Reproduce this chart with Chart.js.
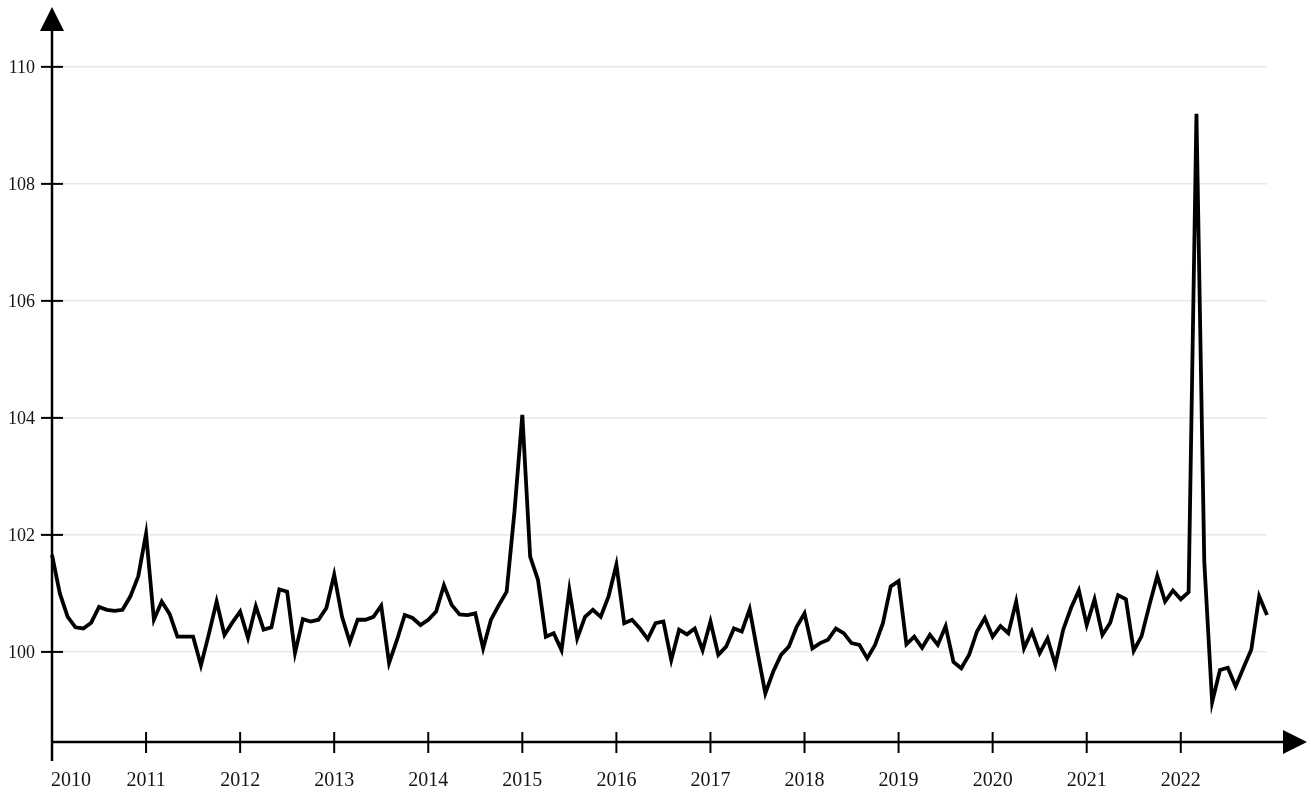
<!DOCTYPE html>
<html>
<head>
<meta charset="utf-8">
<script src="https://cdn.jsdelivr.net/npm/chart.js@4.4.1/dist/chart.umd.min.js"></script>
<style>
  html, body { margin: 0; padding: 0; background: #fff; }
  #wrap { width: 1311px; height: 798px; position: relative; }
</style>
</head>
<body>
<div id="wrap"><canvas id="myChart"></canvas></div>
<script>
// monthly index, Jan 2010 .. Dec 2022
const years = ['2010', '2011', '2012', '2013', '2014', '2015', '2016', '2017', '2018', '2019', '2020', '2021', '2022'];
const yTicks = [100, 102, 104, 106, 108, 110];
const values = [
  101.66, 101.0, 100.6, 100.42, 100.4, 100.5, 100.77, 100.72, 100.7, 100.72, 100.95, 101.29,
  102.02, 100.55, 100.86, 100.65, 100.26, 100.26, 100.26, 99.77, 100.3, 100.86, 100.29, 100.5,
  100.69, 100.24, 100.78, 100.38, 100.42, 101.07, 101.03, 99.98, 100.56, 100.52, 100.55, 100.75,
  101.32, 100.6, 100.17, 100.55, 100.55, 100.6, 100.79, 99.81, 100.2, 100.63, 100.58, 100.46,
  100.55, 100.69, 101.14, 100.8, 100.64, 100.63, 100.66, 100.06, 100.55, 100.8, 101.03, 102.4,
  104.05, 101.63, 101.23, 100.26, 100.32, 100.03, 101.06, 100.23, 100.6, 100.72, 100.6, 100.95,
  101.49, 100.49, 100.55, 100.4, 100.22, 100.49, 100.52, 99.86, 100.38, 100.3, 100.4, 100.03,
  100.52, 99.95, 100.09, 100.4, 100.35, 100.73, 100.0, 99.29, 99.66, 99.95, 100.09, 100.43,
  100.66, 100.06, 100.15, 100.21, 100.4, 100.32, 100.15, 100.12, 99.89, 100.12, 100.49, 101.12,
  101.21, 100.13, 100.26, 100.07, 100.29, 100.12, 100.44, 99.83, 99.72, 99.95, 100.35, 100.58,
  100.26, 100.44, 100.32, 100.86, 100.06, 100.35, 99.98, 100.23, 99.78, 100.38, 100.75, 101.05,
  100.46, 100.9, 100.29, 100.5, 100.97, 100.9, 100.02, 100.27, 100.8, 101.3, 100.86, 101.05,
  100.9, 101.02, 109.2, 101.54, 99.14, 99.69, 99.73, 99.41, 99.73, 100.04, 100.95, 100.63
];

let months = [];
years.forEach((yr) => {
  for (let m = 1; m <= 12; m++) months.push(yr + '-' + String(m).padStart(2, '0'));
});

const labelFont = '"Liberation Serif", "Times New Roman", serif';

// axes with arrow heads, tick marks and labels
const arrowAxes = {
  id: 'arrowAxes',
  afterDraw(chart) {
    const {ctx, chartArea, scales: {x, y}} = chart;
    const x0 = x.getPixelForValue(0);
    const y0 = chartArea.bottom;
    ctx.save();
    ctx.strokeStyle = '#000';
    ctx.fillStyle = '#000';
    ctx.lineWidth = 2.5;

    // y axis + arrow
    ctx.beginPath();
    ctx.moveTo(x0, y0 + 19);
    ctx.lineTo(x0, chartArea.top);
    ctx.stroke();
    ctx.beginPath();
    ctx.moveTo(x0, chartArea.top - 23);
    ctx.lineTo(x0 - 12, chartArea.top + 1);
    ctx.lineTo(x0 + 12, chartArea.top + 1);
    ctx.closePath();
    ctx.fill();

    // x axis + arrow
    const xEnd = chart.width - 4;
    ctx.beginPath();
    ctx.moveTo(x0, y0);
    ctx.lineTo(xEnd - 22, y0);
    ctx.stroke();
    ctx.beginPath();
    ctx.moveTo(xEnd, y0);
    ctx.lineTo(xEnd - 24, y0 - 12);
    ctx.lineTo(xEnd - 24, y0 + 12);
    ctx.closePath();
    ctx.fill();

    // y ticks + labels
    ctx.lineWidth = 2;
    ctx.font = '18px ' + labelFont;
    ctx.fillStyle = '#141414';
    ctx.textAlign = 'right';
    ctx.textBaseline = 'middle';
    yTicks.forEach((v) => {
      const py = y.getPixelForValue(v);
      ctx.beginPath();
      ctx.moveTo(x0 - 11, py);
      ctx.lineTo(x0 + 11, py);
      ctx.stroke();
      ctx.fillText(String(v), x0 - 17, py + 1);
    });

    // x ticks + labels
    ctx.font = '20px ' + labelFont;
    years.forEach((yr, k) => {
      const px = x.getPixelForValue(k * 12);
      if (k > 0) {
        ctx.beginPath();
        ctx.moveTo(px, y0 - 10);
        ctx.lineTo(px, y0 + 11);
        ctx.stroke();
      }
      ctx.textAlign = k === 0 ? 'left' : 'center';
      ctx.fillText(yr, k === 0 ? px - 1 : px, y0 + 39);
    });
    ctx.restore();
  }
};

const ctx = document.getElementById('myChart');
new Chart(ctx, {
  type: 'line',
  data: {
    labels: months,
    datasets: [{
      label: 'Index',
      data: values,
      borderColor: '#000',
      borderWidth: 3.8,
      pointRadius: 0,
      tension: 0,
      fill: false
    }]
  },
  options: {
    responsive: true,
    maintainAspectRatio: false,
    animation: false,
    events: [],
    layout: {
      padding: {top: 30, left: 52, right: 44, bottom: 56}
    },
    scales: {
      x: {
        type: 'category',
        offset: false,
        grid: {display: false, drawTicks: false},
        border: {display: false},
        ticks: {display: false}
      },
      y: {
        min: 98.46,
        max: 110.63,
        afterBuildTicks: (scale) => {
          scale.ticks = yTicks.map((v) => ({value: v}));
        },
        grid: {color: '#e8e8e8', lineWidth: 1.5, drawTicks: false},
        border: {display: false},
        ticks: {display: false}
      }
    },
    plugins: {
      legend: {display: false},
      tooltip: {enabled: false}
    }
  },
  plugins: [arrowAxes]
});
</script>
</body>
</html>
